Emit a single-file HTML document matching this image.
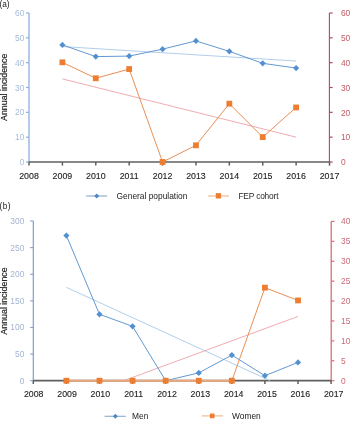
<!DOCTYPE html>
<html><head><meta charset="utf-8"><style>
html,body{margin:0;padding:0;background:#fff;width:350px;height:421px;overflow:hidden}
svg{display:block;font-family:"Liberation Sans",sans-serif}
#w{will-change:transform}
</style></head><body>
<div id="w"><svg width="350" height="421" viewBox="0 0 350 421">
<line x1="29.00" y1="13.00" x2="29.00" y2="162.00" stroke="#8db1dc" stroke-width="1.3"/>
<line x1="26.00" y1="162.00" x2="29.00" y2="162.00" stroke="#8db1dc" stroke-width="1.2"/>
<text x="24.30" y="165.00" fill="#a5bbd9" font-size="8.4" text-anchor="end" >0</text>
<line x1="26.00" y1="137.17" x2="29.00" y2="137.17" stroke="#8db1dc" stroke-width="1.2"/>
<text x="24.30" y="140.17" fill="#a5bbd9" font-size="8.4" text-anchor="end" >10</text>
<line x1="26.00" y1="112.33" x2="29.00" y2="112.33" stroke="#8db1dc" stroke-width="1.2"/>
<text x="24.30" y="115.33" fill="#a5bbd9" font-size="8.4" text-anchor="end" >20</text>
<line x1="26.00" y1="87.50" x2="29.00" y2="87.50" stroke="#8db1dc" stroke-width="1.2"/>
<text x="24.30" y="90.50" fill="#a5bbd9" font-size="8.4" text-anchor="end" >30</text>
<line x1="26.00" y1="62.67" x2="29.00" y2="62.67" stroke="#8db1dc" stroke-width="1.2"/>
<text x="24.30" y="65.67" fill="#a5bbd9" font-size="8.4" text-anchor="end" >40</text>
<line x1="26.00" y1="37.84" x2="29.00" y2="37.84" stroke="#8db1dc" stroke-width="1.2"/>
<text x="24.30" y="40.84" fill="#a5bbd9" font-size="8.4" text-anchor="end" >50</text>
<line x1="26.00" y1="13.00" x2="29.00" y2="13.00" stroke="#8db1dc" stroke-width="1.2"/>
<text x="24.30" y="16.00" fill="#a5bbd9" font-size="8.4" text-anchor="end" >60</text>
<line x1="329.40" y1="13.00" x2="329.40" y2="162.00" stroke="#ac4a5a" stroke-width="1.1"/>
<line x1="329.40" y1="162.00" x2="332.60" y2="162.00" stroke="#ac4a5a" stroke-width="1.2"/>
<text x="340.90" y="165.20" fill="#c05a64" font-size="8.4" text-anchor="start" >0</text>
<line x1="329.40" y1="137.17" x2="332.60" y2="137.17" stroke="#ac4a5a" stroke-width="1.2"/>
<text x="340.90" y="140.37" fill="#c05a64" font-size="8.4" text-anchor="start" >10</text>
<line x1="329.40" y1="112.33" x2="332.60" y2="112.33" stroke="#ac4a5a" stroke-width="1.2"/>
<text x="340.90" y="115.53" fill="#c05a64" font-size="8.4" text-anchor="start" >20</text>
<line x1="329.40" y1="87.50" x2="332.60" y2="87.50" stroke="#ac4a5a" stroke-width="1.2"/>
<text x="340.90" y="90.70" fill="#c05a64" font-size="8.4" text-anchor="start" >30</text>
<line x1="329.40" y1="62.67" x2="332.60" y2="62.67" stroke="#ac4a5a" stroke-width="1.2"/>
<text x="340.90" y="65.87" fill="#c05a64" font-size="8.4" text-anchor="start" >40</text>
<line x1="329.40" y1="37.84" x2="332.60" y2="37.84" stroke="#ac4a5a" stroke-width="1.2"/>
<text x="340.90" y="41.04" fill="#c05a64" font-size="8.4" text-anchor="start" >50</text>
<line x1="329.40" y1="13.00" x2="332.60" y2="13.00" stroke="#ac4a5a" stroke-width="1.2"/>
<text x="340.90" y="16.20" fill="#c05a64" font-size="8.4" text-anchor="start" >60</text>
<line x1="29.00" y1="162.00" x2="329.40" y2="162.00" stroke="#5f5f5f" stroke-width="1.6"/>
<line x1="29.00" y1="162.00" x2="29.00" y2="165.60" stroke="#5f5f5f" stroke-width="1.5"/>
<text x="29.00" y="178.70" fill="#222222" font-size="8.8" text-anchor="middle" stroke="#222" stroke-width="0.12">2008</text>
<line x1="62.39" y1="162.00" x2="62.39" y2="165.60" stroke="#5f5f5f" stroke-width="1.5"/>
<text x="62.39" y="178.70" fill="#222222" font-size="8.8" text-anchor="middle" stroke="#222" stroke-width="0.12">2009</text>
<line x1="95.78" y1="162.00" x2="95.78" y2="165.60" stroke="#5f5f5f" stroke-width="1.5"/>
<text x="95.78" y="178.70" fill="#222222" font-size="8.8" text-anchor="middle" stroke="#222" stroke-width="0.12">2010</text>
<line x1="129.17" y1="162.00" x2="129.17" y2="165.60" stroke="#5f5f5f" stroke-width="1.5"/>
<text x="129.17" y="178.70" fill="#222222" font-size="8.8" text-anchor="middle" stroke="#222" stroke-width="0.12">2011</text>
<line x1="162.56" y1="162.00" x2="162.56" y2="165.60" stroke="#5f5f5f" stroke-width="1.5"/>
<text x="162.56" y="178.70" fill="#222222" font-size="8.8" text-anchor="middle" stroke="#222" stroke-width="0.12">2012</text>
<line x1="195.95" y1="162.00" x2="195.95" y2="165.60" stroke="#5f5f5f" stroke-width="1.5"/>
<text x="195.95" y="178.70" fill="#222222" font-size="8.8" text-anchor="middle" stroke="#222" stroke-width="0.12">2013</text>
<line x1="229.34" y1="162.00" x2="229.34" y2="165.60" stroke="#5f5f5f" stroke-width="1.5"/>
<text x="229.34" y="178.70" fill="#222222" font-size="8.8" text-anchor="middle" stroke="#222" stroke-width="0.12">2014</text>
<line x1="262.73" y1="162.00" x2="262.73" y2="165.60" stroke="#5f5f5f" stroke-width="1.5"/>
<text x="262.73" y="178.70" fill="#222222" font-size="8.8" text-anchor="middle" stroke="#222" stroke-width="0.12">2015</text>
<line x1="296.12" y1="162.00" x2="296.12" y2="165.60" stroke="#5f5f5f" stroke-width="1.5"/>
<text x="296.12" y="178.70" fill="#222222" font-size="8.8" text-anchor="middle" stroke="#222" stroke-width="0.12">2016</text>
<line x1="329.51" y1="162.00" x2="329.51" y2="165.60" stroke="#5f5f5f" stroke-width="1.5"/>
<text x="329.51" y="178.70" fill="#222222" font-size="8.8" text-anchor="middle" stroke="#222" stroke-width="0.12">2017</text>
<line x1="62.39" y1="46.56" x2="296.12" y2="61.04" stroke="#a9c8e8" stroke-width="0.9"/>
<line x1="62.39" y1="78.93" x2="296.12" y2="137.18" stroke="#eea3a8" stroke-width="0.9"/>
<polyline points="62.39,62.33 95.78,78.28 129.17,69.06 162.56,162.00 195.95,145.31 229.34,103.69 262.73,137.08 296.12,107.43" fill="none" stroke="#e8884a" stroke-width="0.95" stroke-linejoin="round"/>
<rect x="59.49" y="59.43" width="5.8" height="5.8" fill="#ed7d31"/>
<rect x="92.88" y="75.38" width="5.8" height="5.8" fill="#ed7d31"/>
<rect x="126.27" y="66.16" width="5.8" height="5.8" fill="#ed7d31"/>
<rect x="159.66" y="159.10" width="5.8" height="5.8" fill="#ed7d31"/>
<rect x="193.05" y="142.41" width="5.8" height="5.8" fill="#ed7d31"/>
<rect x="226.44" y="100.79" width="5.8" height="5.8" fill="#ed7d31"/>
<rect x="259.83" y="134.18" width="5.8" height="5.8" fill="#ed7d31"/>
<rect x="293.22" y="104.53" width="5.8" height="5.8" fill="#ed7d31"/>
<polyline points="62.39,44.89 95.78,56.60 129.17,56.10 162.56,49.13 195.95,40.90 229.34,51.37 262.73,63.33 296.12,68.06" fill="none" stroke="#5a92d0" stroke-width="0.95" stroke-linejoin="round"/>
<path d="M62.39 41.79L65.49 44.89L62.39 47.99L59.29 44.89Z" fill="#5290d2"/>
<path d="M95.78 53.50L98.88 56.60L95.78 59.70L92.68 56.60Z" fill="#5290d2"/>
<path d="M129.17 53.00L132.27 56.10L129.17 59.20L126.07 56.10Z" fill="#5290d2"/>
<path d="M162.56 46.03L165.66 49.13L162.56 52.23L159.46 49.13Z" fill="#5290d2"/>
<path d="M195.95 37.80L199.05 40.90L195.95 44.00L192.85 40.90Z" fill="#5290d2"/>
<path d="M229.34 48.27L232.44 51.37L229.34 54.47L226.24 51.37Z" fill="#5290d2"/>
<path d="M262.73 60.23L265.83 63.33L262.73 66.43L259.63 63.33Z" fill="#5290d2"/>
<path d="M296.12 64.96L299.22 68.06L296.12 71.16L293.02 68.06Z" fill="#5290d2"/>
<text transform="translate(7.2,87.3) rotate(-90)" fill="#222222" font-size="8.85" stroke="#222" stroke-width="0.18" text-anchor="middle">Annual incidence</text>
<text x="-0.40" y="6.90" fill="#222222" font-size="8.3" text-anchor="start" letter-spacing="-0.1">(a)</text>
<line x1="86.10" y1="196.00" x2="107.10" y2="196.00" stroke="#93b0d3" stroke-width="1.2"/>
<path d="M96.70 193.50L99.20 196.00L96.70 198.50L94.20 196.00Z" fill="#4f88c8"/>
<text x="116.60" y="199.20" fill="#222222" font-size="8.4" text-anchor="start" >General population</text>
<line x1="207.90" y1="196.00" x2="228.90" y2="196.00" stroke="#ebbc98" stroke-width="1.2"/>
<rect x="215.75" y="193.15" width="5.3" height="5.3" fill="#ed7d31"/>
<text x="238.40" y="199.20" fill="#2a2a2a" font-size="8.4" text-anchor="start" letter-spacing="-0.18">FEP cohort</text>
<line x1="33.30" y1="221.00" x2="33.30" y2="380.70" stroke="#819fca" stroke-width="1.2"/>
<line x1="30.20" y1="380.70" x2="33.30" y2="380.70" stroke="#819fca" stroke-width="1.1"/>
<text x="24.30" y="383.70" fill="#a3b5d0" font-size="8.4" text-anchor="end" >0</text>
<line x1="30.20" y1="354.08" x2="33.30" y2="354.08" stroke="#819fca" stroke-width="1.1"/>
<text x="24.30" y="357.08" fill="#a3b5d0" font-size="8.4" text-anchor="end" >50</text>
<line x1="30.20" y1="327.47" x2="33.30" y2="327.47" stroke="#819fca" stroke-width="1.1"/>
<text x="24.30" y="330.47" fill="#a3b5d0" font-size="8.4" text-anchor="end" >100</text>
<line x1="30.20" y1="300.86" x2="33.30" y2="300.86" stroke="#819fca" stroke-width="1.1"/>
<text x="24.30" y="303.86" fill="#a3b5d0" font-size="8.4" text-anchor="end" >150</text>
<line x1="30.20" y1="274.24" x2="33.30" y2="274.24" stroke="#819fca" stroke-width="1.1"/>
<text x="24.30" y="277.24" fill="#a3b5d0" font-size="8.4" text-anchor="end" >200</text>
<line x1="30.20" y1="247.62" x2="33.30" y2="247.62" stroke="#819fca" stroke-width="1.1"/>
<text x="24.30" y="250.62" fill="#a3b5d0" font-size="8.4" text-anchor="end" >250</text>
<line x1="30.20" y1="221.01" x2="33.30" y2="221.01" stroke="#819fca" stroke-width="1.1"/>
<text x="24.30" y="224.01" fill="#a3b5d0" font-size="8.4" text-anchor="end" >300</text>
<line x1="331.20" y1="221.40" x2="331.20" y2="380.70" stroke="#d0707a" stroke-width="1.3"/>
<line x1="331.20" y1="380.70" x2="334.40" y2="380.70" stroke="#d0707a" stroke-width="1.2"/>
<text x="341.00" y="383.70" fill="#c96a78" font-size="8.4" text-anchor="start" >0</text>
<line x1="331.20" y1="360.79" x2="334.40" y2="360.79" stroke="#d0707a" stroke-width="1.2"/>
<text x="341.00" y="363.79" fill="#c96a78" font-size="8.4" text-anchor="start" >5</text>
<line x1="331.20" y1="340.88" x2="334.40" y2="340.88" stroke="#d0707a" stroke-width="1.2"/>
<text x="341.00" y="343.88" fill="#c96a78" font-size="8.4" text-anchor="start" >10</text>
<line x1="331.20" y1="320.96" x2="334.40" y2="320.96" stroke="#d0707a" stroke-width="1.2"/>
<text x="341.00" y="323.96" fill="#c96a78" font-size="8.4" text-anchor="start" >15</text>
<line x1="331.20" y1="301.05" x2="334.40" y2="301.05" stroke="#d0707a" stroke-width="1.2"/>
<text x="341.00" y="304.05" fill="#c96a78" font-size="8.4" text-anchor="start" >20</text>
<line x1="331.20" y1="281.14" x2="334.40" y2="281.14" stroke="#d0707a" stroke-width="1.2"/>
<text x="341.00" y="284.14" fill="#c96a78" font-size="8.4" text-anchor="start" >25</text>
<line x1="331.20" y1="261.23" x2="334.40" y2="261.23" stroke="#d0707a" stroke-width="1.2"/>
<text x="341.00" y="264.23" fill="#c96a78" font-size="8.4" text-anchor="start" >30</text>
<line x1="331.20" y1="241.31" x2="334.40" y2="241.31" stroke="#d0707a" stroke-width="1.2"/>
<text x="341.00" y="244.31" fill="#c96a78" font-size="8.4" text-anchor="start" >35</text>
<line x1="331.20" y1="221.40" x2="334.40" y2="221.40" stroke="#d0707a" stroke-width="1.2"/>
<text x="341.00" y="224.40" fill="#c96a78" font-size="8.4" text-anchor="start" >40</text>
<line x1="33.30" y1="380.70" x2="331.20" y2="380.70" stroke="#5f5f5f" stroke-width="1.7"/>
<line x1="33.30" y1="380.70" x2="33.30" y2="384.00" stroke="#5f5f5f" stroke-width="1.5"/>
<text x="33.70" y="396.80" fill="#222222" font-size="8.8" text-anchor="middle" stroke="#222" stroke-width="0.12">2008</text>
<line x1="66.39" y1="380.70" x2="66.39" y2="384.00" stroke="#5f5f5f" stroke-width="1.5"/>
<text x="67.03" y="396.80" fill="#222222" font-size="8.8" text-anchor="middle" stroke="#222" stroke-width="0.12">2009</text>
<line x1="99.48" y1="380.70" x2="99.48" y2="384.00" stroke="#5f5f5f" stroke-width="1.5"/>
<text x="100.36" y="396.80" fill="#222222" font-size="8.8" text-anchor="middle" stroke="#222" stroke-width="0.12">2010</text>
<line x1="132.57" y1="380.70" x2="132.57" y2="384.00" stroke="#5f5f5f" stroke-width="1.5"/>
<text x="133.69" y="396.80" fill="#222222" font-size="8.8" text-anchor="middle" stroke="#222" stroke-width="0.12">2011</text>
<line x1="165.66" y1="380.70" x2="165.66" y2="384.00" stroke="#5f5f5f" stroke-width="1.5"/>
<text x="167.02" y="396.80" fill="#222222" font-size="8.8" text-anchor="middle" stroke="#222" stroke-width="0.12">2012</text>
<line x1="198.75" y1="380.70" x2="198.75" y2="384.00" stroke="#5f5f5f" stroke-width="1.5"/>
<text x="200.35" y="396.80" fill="#222222" font-size="8.8" text-anchor="middle" stroke="#222" stroke-width="0.12">2013</text>
<line x1="231.84" y1="380.70" x2="231.84" y2="384.00" stroke="#5f5f5f" stroke-width="1.5"/>
<text x="233.68" y="396.80" fill="#222222" font-size="8.8" text-anchor="middle" stroke="#222" stroke-width="0.12">2014</text>
<line x1="264.93" y1="380.70" x2="264.93" y2="384.00" stroke="#5f5f5f" stroke-width="1.5"/>
<text x="267.01" y="396.80" fill="#222222" font-size="8.8" text-anchor="middle" stroke="#222" stroke-width="0.12">2015</text>
<line x1="298.02" y1="380.70" x2="298.02" y2="384.00" stroke="#5f5f5f" stroke-width="1.5"/>
<text x="300.34" y="396.80" fill="#222222" font-size="8.8" text-anchor="middle" stroke="#222" stroke-width="0.12">2016</text>
<line x1="331.11" y1="380.70" x2="331.11" y2="384.00" stroke="#5f5f5f" stroke-width="1.5"/>
<text x="333.67" y="396.80" fill="#222222" font-size="8.8" text-anchor="middle" stroke="#222" stroke-width="0.12">2017</text>
<line x1="66.39" y1="287.36" x2="270.20" y2="380.70" stroke="#a9c8e8" stroke-width="0.9"/>
<line x1="123.60" y1="380.70" x2="298.02" y2="316.43" stroke="#eea3a8" stroke-width="0.9"/>
<polyline points="66.39,235.60 99.48,314.32 132.57,326.30 165.66,380.70 198.75,372.88 231.84,355.10 264.93,375.70 298.02,362.39" fill="none" stroke="#5a92d0" stroke-width="0.95" stroke-linejoin="round"/>
<path d="M66.39 232.50L69.49 235.60L66.39 238.70L63.29 235.60Z" fill="#5290d2"/>
<path d="M99.48 311.22L102.58 314.32L99.48 317.42L96.38 314.32Z" fill="#5290d2"/>
<path d="M132.57 323.20L135.67 326.30L132.57 329.40L129.47 326.30Z" fill="#5290d2"/>
<path d="M165.66 377.60L168.76 380.70L165.66 383.80L162.56 380.70Z" fill="#5290d2"/>
<path d="M198.75 369.78L201.85 372.88L198.75 375.98L195.65 372.88Z" fill="#5290d2"/>
<path d="M231.84 352.00L234.94 355.10L231.84 358.20L228.74 355.10Z" fill="#5290d2"/>
<path d="M264.93 372.60L268.03 375.70L264.93 378.80L261.83 375.70Z" fill="#5290d2"/>
<path d="M298.02 359.29L301.12 362.39L298.02 365.49L294.92 362.39Z" fill="#5290d2"/>
<polyline points="66.39,380.70 99.48,380.70 132.57,380.70 165.66,380.70 198.75,380.70 231.84,380.70" fill="none" stroke="#eba77a" stroke-width="2.0" stroke-linejoin="round"/>
<polyline points="231.84,380.70 264.93,287.67 298.02,300.45" fill="none" stroke="#e8884a" stroke-width="0.95" stroke-linejoin="round"/>
<rect x="63.49" y="377.80" width="5.8" height="5.8" fill="#ed7d31"/>
<rect x="96.58" y="377.80" width="5.8" height="5.8" fill="#ed7d31"/>
<rect x="129.67" y="377.80" width="5.8" height="5.8" fill="#ed7d31"/>
<rect x="162.76" y="377.80" width="5.8" height="5.8" fill="#ed7d31"/>
<rect x="195.85" y="377.80" width="5.8" height="5.8" fill="#ed7d31"/>
<rect x="228.94" y="377.80" width="5.8" height="5.8" fill="#ed7d31"/>
<rect x="262.03" y="284.77" width="5.8" height="5.8" fill="#ed7d31"/>
<rect x="295.12" y="297.55" width="5.8" height="5.8" fill="#ed7d31"/>
<text transform="translate(7.2,301) rotate(-90)" fill="#222222" font-size="8.85" stroke="#222" stroke-width="0.18" text-anchor="middle">Annual incidence</text>
<text x="-0.40" y="209.00" fill="#222222" font-size="8.3" text-anchor="start" letter-spacing="0.4">(b)</text>
<line x1="104.60" y1="416.30" x2="125.70" y2="416.30" stroke="#93b0d3" stroke-width="1.2"/>
<path d="M115.30 413.80L117.80 416.30L115.30 418.80L112.80 416.30Z" fill="#4f88c8"/>
<text x="132.00" y="419.30" fill="#222222" font-size="8.4" text-anchor="start" >Men</text>
<line x1="201.90" y1="415.90" x2="223.10" y2="415.90" stroke="#ebbc98" stroke-width="1.2"/>
<rect x="209.85" y="413.55" width="4.7" height="4.7" fill="#ed7d31"/>
<text x="232.00" y="418.80" fill="#222222" font-size="8.4" text-anchor="start" >Women</text>
</svg></div>
</body></html>
